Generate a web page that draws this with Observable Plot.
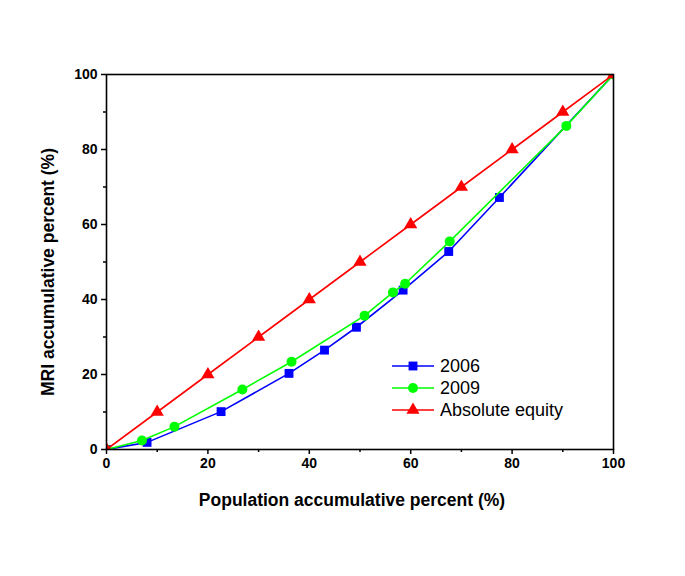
<!DOCTYPE html>
<html>
<head>
<meta charset="utf-8">
<script src="https://cdn.jsdelivr.net/npm/d3@7"></script>
<script src="https://cdn.jsdelivr.net/npm/@observablehq/plot@0.6"></script>
<style>
  html, body { margin: 0; padding: 0; background: #fff; }
  #wrap { position: relative; width: 685px; height: 576px; }
  #legend { position: absolute; left: 388px; top: 354px; }
</style>
</head>
<body>
<div id="wrap"></div>
<script>
// ---- Data ----
const x2006 = [0, 8.0, 22.6, 36.0, 43.0, 49.3, 58.5, 67.5, 77.5, 100];
const y2006 = [0, 1.9, 10.1, 20.3, 26.5, 32.6, 42.5, 52.8, 67.2, 100];
const x2009 = [0, 7.0, 13.4, 26.8, 36.5, 50.9, 56.5, 58.9, 67.7, 90.7, 100];
const y2009 = [0, 2.4, 6.1, 16.0, 23.4, 35.7, 41.9, 44.2, 55.5, 86.3, 100];
const xEquity = [0, 10, 20, 30, 40, 50, 60, 70, 80, 90, 100];
const yEquity = [0, 10, 20, 30, 40, 50, 60, 70, 80, 90, 100];
const majorTicks = [0, 20, 40, 60, 80, 100];
const minorTicks = [10, 30, 50, 70, 90];
const seriesNames = ["2006", "2009", "Absolute equity"];
const seriesColors = ["#0000ff", "#00ff00", "#ff0000"];
const seriesSymbols = ["square", "circle", "triangle"];
const xLabel = "Population accumulative percent (%)";
const yLabel = "MRI accumulative percent (%)";

const toRows = (xs, ys) => xs.map((x, i) => ({x, y: ys[i]}));
const d2006 = toRows(x2006, y2006);
const d2009 = toRows(x2009, y2009);
const dEq = toRows(xEquity, yEquity);
const sets = [d2006, d2009, dEq];
const radii = [5, 5, 4.9];

const font = "Arial, 'Liberation Sans', Helvetica, sans-serif";

const marks = [
  Plot.axisX({ticks: majorTicks, tickSize: 5, tickPadding: 4, strokeWidth: 1.5, fontWeight: "bold", fontSize: 14, label: null, color: "black"}),
  Plot.axisX({ticks: minorTicks, tickSize: 3, strokeWidth: 1.5, text: null, label: null}),
  Plot.axisY({ticks: majorTicks, tickSize: 5, tickPadding: 4, strokeWidth: 1.5, fontWeight: "bold", fontSize: 14, label: null, color: "black"}),
  Plot.axisY({ticks: minorTicks, tickSize: 3, strokeWidth: 1.5, text: null, label: null}),
];
sets.forEach((d, i) => {
  marks.push(Plot.line(d, {x: "x", y: "y", stroke: seriesColors[i], strokeWidth: 1.6, clip: true}));
  marks.push(Plot.dot(d, {x: "x", y: "y", symbol: seriesSymbols[i], r: radii[i], fill: seriesColors[i], stroke: "none", clip: true}));
});
marks.push(Plot.frame({stroke: "black", strokeWidth: 1.6}));
marks.push(Plot.text([xLabel], {frameAnchor: "bottom", dx: -8, dy: 56, textAnchor: "middle", fontWeight: "bold", fontSize: 17.5, fill: "black"}));
marks.push(Plot.text([yLabel], {frameAnchor: "left", dx: -58, dy: 10, rotate: -90, textAnchor: "middle", fontWeight: "bold", fontSize: 17.5, fill: "black"}));

const chart = Plot.plot({
  width: 685,
  height: 576,
  marginLeft: 106,
  marginRight: 72,
  marginTop: 74,
  marginBottom: 127,
  x: {domain: [0, 100]},
  y: {domain: [0, 100]},
  style: {fontFamily: font, color: "black", background: "white"},
  marks
});
document.getElementById("wrap").appendChild(chart);

// ---- Legend (inside the plot area) ----
const lw = 200, rowH = 22;
const leg = d3.select("#wrap").append("svg")
  .attr("id", "legend")
  .attr("width", lw).attr("height", rowH * seriesNames.length + 4);
seriesNames.forEach((name, i) => {
  const cy = 12 + i * rowH;
  const g = leg.append("g").attr("transform", `translate(0,${cy})`);
  g.append("line").attr("x1", 4).attr("x2", 46).attr("y1", 0).attr("y2", 0)
    .attr("stroke", seriesColors[i]).attr("stroke-width", 1.6);
  const sym = {square: d3.symbolSquare, circle: d3.symbolCircle, triangle: d3.symbolTriangle}[seriesSymbols[i]];
  g.append("path").attr("transform", "translate(25,0)")
    .attr("d", d3.symbol(sym, Math.PI * radii[i] * radii[i])())
    .attr("fill", seriesColors[i]);
  g.append("text").attr("x", 52).attr("y", 0).attr("dy", "0.35em")
    .attr("font-family", font).attr("font-size", 18).attr("fill", "black")
    .text(name);
});
</script>
</body>
</html>
